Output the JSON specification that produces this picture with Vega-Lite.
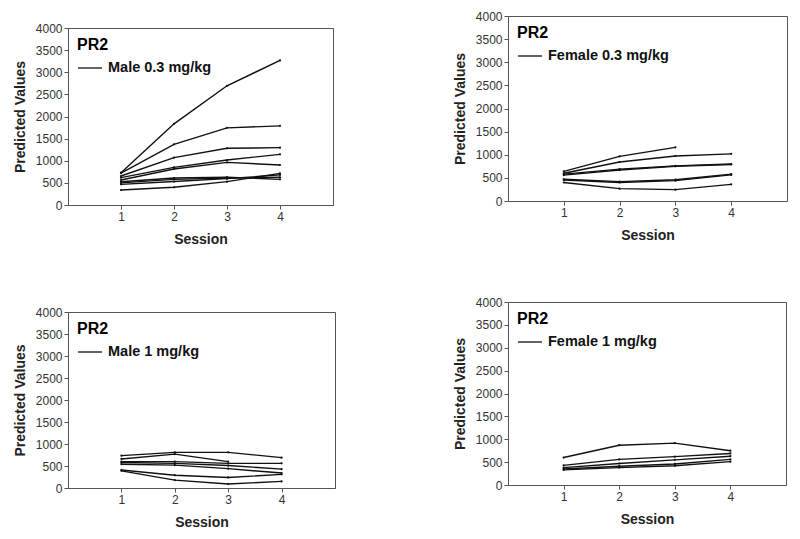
{
  "$schema": "https://vega.github.io/schema/vega-lite/v6.json",
  "padding": {"left": 12, "top": 9, "right": 0, "bottom": 0},
  "background": "white",
  "config": {
    "font": "Liberation Sans",
    "view": {"stroke": "#555", "strokeWidth": 1},
    "axis": {"grid": false, "labelFont": "Liberation Sans", "labelFontSize": 12, "labelColor": "#333", "titleFont": "Liberation Sans", "titleFontSize": 14, "titleFontWeight": "bold", "titleColor": "#222", "domainColor": "#555", "tickColor": "#555", "tickSize": 4, "labelPadding": 2},
    "legend": {"orient": "top-left", "offset": 9, "padding": 0, "titleFont": "Liberation Sans", "titleFontSize": 16, "titleFontWeight": "bold", "titleColor": "#000", "titlePadding": 2, "labelFont": "Liberation Sans", "labelFontSize": 14.5, "labelFontWeight": "bold", "labelColor": "#111", "symbolType": "stroke", "symbolSize": 576, "symbolStrokeWidth": 1.3, "symbolStrokeColor": "#333", "labelOffset": 5}
  },
  "data": {"values": [
    {"group": "Male 0.3 mg/kg", "subject": "A", "session": 1, "value": 730},
    {"group": "Male 0.3 mg/kg", "subject": "A", "session": 2, "value": 1834},
    {"group": "Male 0.3 mg/kg", "subject": "A", "session": 3, "value": 2694},
    {"group": "Male 0.3 mg/kg", "subject": "A", "session": 4, "value": 3268},
    {"group": "Male 0.3 mg/kg", "subject": "B", "session": 1, "value": 720},
    {"group": "Male 0.3 mg/kg", "subject": "B", "session": 2, "value": 1371},
    {"group": "Male 0.3 mg/kg", "subject": "B", "session": 3, "value": 1743},
    {"group": "Male 0.3 mg/kg", "subject": "B", "session": 4, "value": 1789},
    {"group": "Male 0.3 mg/kg", "subject": "C", "session": 1, "value": 655},
    {"group": "Male 0.3 mg/kg", "subject": "C", "session": 2, "value": 1070},
    {"group": "Male 0.3 mg/kg", "subject": "C", "session": 3, "value": 1281},
    {"group": "Male 0.3 mg/kg", "subject": "C", "session": 4, "value": 1296},
    {"group": "Male 0.3 mg/kg", "subject": "D", "session": 1, "value": 618},
    {"group": "Male 0.3 mg/kg", "subject": "D", "session": 2, "value": 851},
    {"group": "Male 0.3 mg/kg", "subject": "D", "session": 3, "value": 1017},
    {"group": "Male 0.3 mg/kg", "subject": "D", "session": 4, "value": 1145},
    {"group": "Male 0.3 mg/kg", "subject": "E", "session": 1, "value": 565},
    {"group": "Male 0.3 mg/kg", "subject": "E", "session": 2, "value": 814},
    {"group": "Male 0.3 mg/kg", "subject": "E", "session": 3, "value": 964},
    {"group": "Male 0.3 mg/kg", "subject": "E", "session": 4, "value": 904},
    {"group": "Male 0.3 mg/kg", "subject": "F", "session": 1, "value": 527},
    {"group": "Male 0.3 mg/kg", "subject": "F", "session": 2, "value": 610},
    {"group": "Male 0.3 mg/kg", "subject": "F", "session": 3, "value": 630},
    {"group": "Male 0.3 mg/kg", "subject": "F", "session": 4, "value": 580},
    {"group": "Male 0.3 mg/kg", "subject": "I", "session": 1, "value": 500},
    {"group": "Male 0.3 mg/kg", "subject": "I", "session": 2, "value": 580},
    {"group": "Male 0.3 mg/kg", "subject": "I", "session": 3, "value": 610},
    {"group": "Male 0.3 mg/kg", "subject": "I", "session": 4, "value": 626},
    {"group": "Male 0.3 mg/kg", "subject": "G", "session": 1, "value": 467},
    {"group": "Male 0.3 mg/kg", "subject": "G", "session": 2, "value": 530},
    {"group": "Male 0.3 mg/kg", "subject": "G", "session": 3, "value": 595},
    {"group": "Male 0.3 mg/kg", "subject": "G", "session": 4, "value": 680},
    {"group": "Male 0.3 mg/kg", "subject": "H", "session": 1, "value": 339},
    {"group": "Male 0.3 mg/kg", "subject": "H", "session": 2, "value": 400},
    {"group": "Male 0.3 mg/kg", "subject": "H", "session": 3, "value": 527},
    {"group": "Male 0.3 mg/kg", "subject": "H", "session": 4, "value": 716},

    {"group": "Female 0.3 mg/kg", "subject": "F1", "session": 1, "value": 640},
    {"group": "Female 0.3 mg/kg", "subject": "F1", "session": 2, "value": 966},
    {"group": "Female 0.3 mg/kg", "subject": "F1", "session": 3, "value": 1160},
    {"group": "Female 0.3 mg/kg", "subject": "F2", "session": 1, "value": 600},
    {"group": "Female 0.3 mg/kg", "subject": "F2", "session": 2, "value": 843},
    {"group": "Female 0.3 mg/kg", "subject": "F2", "session": 3, "value": 973},
    {"group": "Female 0.3 mg/kg", "subject": "F2", "session": 4, "value": 1020},
    {"group": "Female 0.3 mg/kg", "subject": "F3", "session": 1, "value": 580},
    {"group": "Female 0.3 mg/kg", "subject": "F3", "session": 2, "value": 690},
    {"group": "Female 0.3 mg/kg", "subject": "F3", "session": 3, "value": 760},
    {"group": "Female 0.3 mg/kg", "subject": "F3", "session": 4, "value": 800},
    {"group": "Female 0.3 mg/kg", "subject": "F4", "session": 1, "value": 560},
    {"group": "Female 0.3 mg/kg", "subject": "F4", "session": 2, "value": 670},
    {"group": "Female 0.3 mg/kg", "subject": "F4", "session": 3, "value": 750},
    {"group": "Female 0.3 mg/kg", "subject": "F4", "session": 4, "value": 790},
    {"group": "Female 0.3 mg/kg", "subject": "F5", "session": 1, "value": 470},
    {"group": "Female 0.3 mg/kg", "subject": "F5", "session": 2, "value": 420},
    {"group": "Female 0.3 mg/kg", "subject": "F5", "session": 3, "value": 460},
    {"group": "Female 0.3 mg/kg", "subject": "F5", "session": 4, "value": 580},
    {"group": "Female 0.3 mg/kg", "subject": "F6", "session": 1, "value": 455},
    {"group": "Female 0.3 mg/kg", "subject": "F6", "session": 2, "value": 400},
    {"group": "Female 0.3 mg/kg", "subject": "F6", "session": 3, "value": 440},
    {"group": "Female 0.3 mg/kg", "subject": "F6", "session": 4, "value": 565},
    {"group": "Female 0.3 mg/kg", "subject": "F7", "session": 1, "value": 400},
    {"group": "Female 0.3 mg/kg", "subject": "F7", "session": 2, "value": 267},
    {"group": "Female 0.3 mg/kg", "subject": "F7", "session": 3, "value": 245},
    {"group": "Female 0.3 mg/kg", "subject": "F7", "session": 4, "value": 360},

    {"group": "Male 1 mg/kg", "subject": "M1", "session": 1, "value": 735},
    {"group": "Male 1 mg/kg", "subject": "M1", "session": 2, "value": 810},
    {"group": "Male 1 mg/kg", "subject": "M1", "session": 3, "value": 810},
    {"group": "Male 1 mg/kg", "subject": "M1", "session": 4, "value": 690},
    {"group": "Male 1 mg/kg", "subject": "M2", "session": 1, "value": 660},
    {"group": "Male 1 mg/kg", "subject": "M2", "session": 2, "value": 770},
    {"group": "Male 1 mg/kg", "subject": "M2", "session": 3, "value": 600},
    {"group": "Male 1 mg/kg", "subject": "M3", "session": 1, "value": 600},
    {"group": "Male 1 mg/kg", "subject": "M3", "session": 2, "value": 600},
    {"group": "Male 1 mg/kg", "subject": "M3", "session": 3, "value": 560},
    {"group": "Male 1 mg/kg", "subject": "M3", "session": 4, "value": 560},
    {"group": "Male 1 mg/kg", "subject": "M4", "session": 1, "value": 580},
    {"group": "Male 1 mg/kg", "subject": "M4", "session": 2, "value": 560},
    {"group": "Male 1 mg/kg", "subject": "M4", "session": 3, "value": 510},
    {"group": "Male 1 mg/kg", "subject": "M4", "session": 4, "value": 430},
    {"group": "Male 1 mg/kg", "subject": "M5", "session": 1, "value": 540},
    {"group": "Male 1 mg/kg", "subject": "M5", "session": 2, "value": 520},
    {"group": "Male 1 mg/kg", "subject": "M5", "session": 3, "value": 440},
    {"group": "Male 1 mg/kg", "subject": "M5", "session": 4, "value": 340},
    {"group": "Male 1 mg/kg", "subject": "M6", "session": 1, "value": 410},
    {"group": "Male 1 mg/kg", "subject": "M6", "session": 2, "value": 290},
    {"group": "Male 1 mg/kg", "subject": "M6", "session": 3, "value": 240},
    {"group": "Male 1 mg/kg", "subject": "M6", "session": 4, "value": 310},
    {"group": "Male 1 mg/kg", "subject": "M7", "session": 1, "value": 390},
    {"group": "Male 1 mg/kg", "subject": "M7", "session": 2, "value": 180},
    {"group": "Male 1 mg/kg", "subject": "M7", "session": 3, "value": 90},
    {"group": "Male 1 mg/kg", "subject": "M7", "session": 4, "value": 150},

    {"group": "Female 1 mg/kg", "subject": "W1", "session": 1, "value": 600},
    {"group": "Female 1 mg/kg", "subject": "W1", "session": 2, "value": 870},
    {"group": "Female 1 mg/kg", "subject": "W1", "session": 3, "value": 915},
    {"group": "Female 1 mg/kg", "subject": "W1", "session": 4, "value": 750},
    {"group": "Female 1 mg/kg", "subject": "W2", "session": 1, "value": 430},
    {"group": "Female 1 mg/kg", "subject": "W2", "session": 2, "value": 560},
    {"group": "Female 1 mg/kg", "subject": "W2", "session": 3, "value": 620},
    {"group": "Female 1 mg/kg", "subject": "W2", "session": 4, "value": 690},
    {"group": "Female 1 mg/kg", "subject": "W3", "session": 1, "value": 380},
    {"group": "Female 1 mg/kg", "subject": "W3", "session": 2, "value": 470},
    {"group": "Female 1 mg/kg", "subject": "W3", "session": 3, "value": 550},
    {"group": "Female 1 mg/kg", "subject": "W3", "session": 4, "value": 630},
    {"group": "Female 1 mg/kg", "subject": "W4", "session": 1, "value": 350},
    {"group": "Female 1 mg/kg", "subject": "W4", "session": 2, "value": 410},
    {"group": "Female 1 mg/kg", "subject": "W4", "session": 3, "value": 460},
    {"group": "Female 1 mg/kg", "subject": "W4", "session": 4, "value": 560},
    {"group": "Female 1 mg/kg", "subject": "W5", "session": 1, "value": 330},
    {"group": "Female 1 mg/kg", "subject": "W5", "session": 2, "value": 380},
    {"group": "Female 1 mg/kg", "subject": "W5", "session": 3, "value": 420},
    {"group": "Female 1 mg/kg", "subject": "W5", "session": 4, "value": 510}
  ]},
  "spacing": 116,
  "resolve": {"scale": {"color": "independent"}, "legend": {"color": "independent"}},
  "hconcat": [
    {
      "spacing": 58,
      "resolve": {"scale": {"color": "independent"}, "legend": {"color": "independent"}},
      "vconcat": [
        {
          "spacing": 4,
          "resolve": {"scale": {"color": "independent"}, "legend": {"color": "independent"}},
          "vconcat": [
            {
              "width": 1, "height": 1,
              "data": {"values": []},
              "view": {"stroke": null},
              "mark": {"type": "point", "opacity": 0}
            },
            {
              "width": 265, "height": 177,
              "transform": [{"filter": "datum.group === 'Male 0.3 mg/kg'"}],
              "mark": {"type": "line", "strokeWidth": 1.4, "point": {"filled": true, "size": 5}},
              "encoding": {
                "x": {"field": "session", "type": "quantitative", "scale": {"domain": [0, 5], "nice": false}, "axis": {"values": [1, 2, 3, 4], "format": "d", "title": "Session", "titlePadding": 10}},
                "y": {"field": "value", "type": "quantitative", "scale": {"domain": [0, 4000], "nice": false}, "axis": {"values": [0, 500, 1000, 1500, 2000, 2500, 3000, 3500, 4000], "format": "d", "title": "Predicted Values", "titlePadding": 8}},
                "detail": {"field": "subject"},
                "color": {"field": "group", "type": "nominal", "scale": {"range": ["#111"]}, "legend": {"title": "PR2"}}
              }
            }
          ]
        },
        {
          "width": 267, "height": 176,
          "transform": [{"filter": "datum.group === 'Male 1 mg/kg'"}],
          "mark": {"type": "line", "strokeWidth": 1.4, "point": {"filled": true, "size": 5}},
          "encoding": {
            "x": {"field": "session", "type": "quantitative", "scale": {"domain": [0, 5], "nice": false}, "axis": {"values": [1, 2, 3, 4], "format": "d", "title": "Session", "titlePadding": 10}},
            "y": {"field": "value", "type": "quantitative", "scale": {"domain": [0, 4000], "nice": false}, "axis": {"values": [0, 500, 1000, 1500, 2000, 2500, 3000, 3500, 4000], "format": "d", "title": "Predicted Values", "titlePadding": 8}},
            "detail": {"field": "subject"},
            "color": {"field": "group", "type": "nominal", "scale": {"range": ["#111"]}, "legend": {"title": "PR2"}}
          }
        }
      ]
    },
    {
      "spacing": 52,
      "resolve": {"scale": {"color": "independent"}, "legend": {"color": "independent"}},
      "vconcat": [
        {
          "width": 279, "height": 185,
          "transform": [{"filter": "datum.group === 'Female 0.3 mg/kg'"}],
          "mark": {"type": "line", "strokeWidth": 1.4, "point": {"filled": true, "size": 5}},
          "encoding": {
            "x": {"field": "session", "type": "quantitative", "scale": {"domain": [0, 5], "nice": false}, "axis": {"values": [1, 2, 3, 4], "format": "d", "title": "Session", "titlePadding": 10}},
            "y": {"field": "value", "type": "quantitative", "scale": {"domain": [0, 4000], "nice": false}, "axis": {"values": [0, 500, 1000, 1500, 2000, 2500, 3000, 3500, 4000], "format": "d", "title": "Predicted Values", "titlePadding": 8}},
            "detail": {"field": "subject"},
            "color": {"field": "group", "type": "nominal", "scale": {"range": ["#111"]}, "legend": {"title": "PR2"}}
          }
        },
        {
          "width": 278, "height": 183,
          "transform": [{"filter": "datum.group === 'Female 1 mg/kg'"}],
          "mark": {"type": "line", "strokeWidth": 1.4, "point": {"filled": true, "size": 5}},
          "encoding": {
            "x": {"field": "session", "type": "quantitative", "scale": {"domain": [0, 5], "nice": false}, "axis": {"values": [1, 2, 3, 4], "format": "d", "title": "Session", "titlePadding": 10}},
            "y": {"field": "value", "type": "quantitative", "scale": {"domain": [0, 4000], "nice": false}, "axis": {"values": [0, 500, 1000, 1500, 2000, 2500, 3000, 3500, 4000], "format": "d", "title": "Predicted Values", "titlePadding": 8}},
            "detail": {"field": "subject"},
            "color": {"field": "group", "type": "nominal", "scale": {"range": ["#111"]}, "legend": {"title": "PR2"}}
          }
        }
      ]
    }
  ]
}
